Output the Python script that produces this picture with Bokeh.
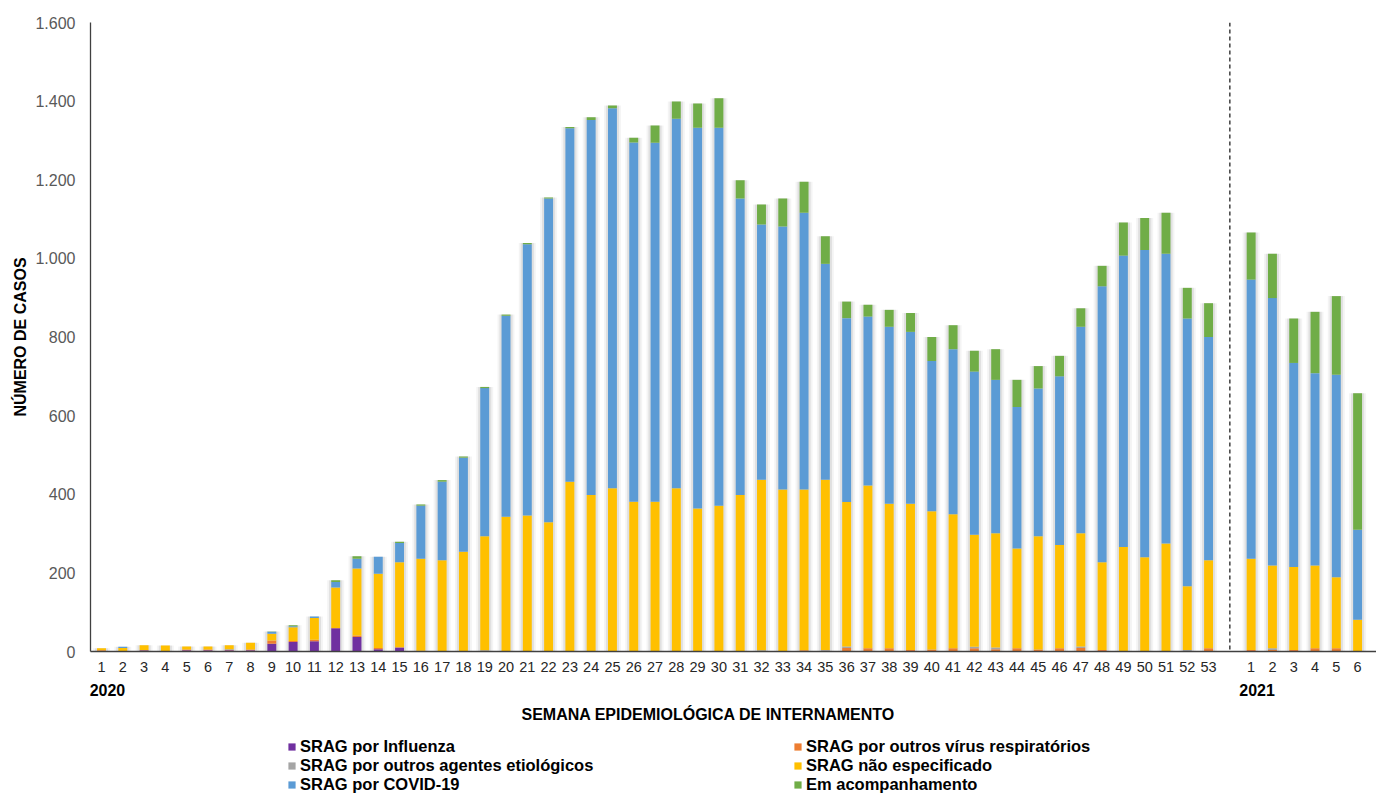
from bokeh.plotting import figure
from bokeh.layouts import column
from bokeh.models import (ColumnDataSource, Range1d, FixedTicker, LinearAxis,
                          Legend, LegendItem, Span, Title)
from bokeh.embed import file_html
from bokeh.resources import INLINE

# ---------------- data ----------------
weeks_2020 = list(range(1, 54))
weeks_2021 = list(range(1, 8))
year_labels = ["2020", "2021"]
y_ticks = [0, 200, 400, 600, 800, 1000, 1200, 1400, 1600]
y_tick_labels = ["0", "200", "400", "600", "800", "1.000", "1.200", "1.400", "1.600"]

series_names = ["SRAG por Influenza", "SRAG por outros vírus respiratórios",
                "SRAG por outros agentes etiológicos", "SRAG não especificado",
                "SRAG por COVID-19", "Em acompanhamento"]
series_colors = ["#7030A0", "#ED7D31", "#A5A5A5", "#FFC000", "#5B9BD5", "#70AD47"]

influenza_2020 = [1, 1, 3, 1, 3, 3, 3, 3, 20, 24, 26, 59, 37, 6, 10,
                  1, 1, 0, 0, 0, 0, 0, 0, 0, 0, 0, 0, 0, 0, 0, 0, 0, 0, 0, 0,
                  0, 0, 0, 0, 0, 0, 0, 0, 0, 0, 0, 0, 0, 0, 0, 0, 0, 0]
outros_virus_2020 = [2, 0, 0, 0, 2, 2, 1, 2, 8, 3, 4, 1, 4, 3, 1,
                     1, 0, 0, 0, 0, 0, 0, 0, 0, 0, 0, 0, 0, 0, 0, 0, 0, 0, 3, 2,
                     9, 8, 8, 4, 5, 8, 8, 6, 8, 5, 8, 9, 4, 1, 1, 1, 1, 8]
outros_agentes_2020 = [0, 0, 0, 0, 0, 0, 2, 0, 0, 0, 0, 0, 0, 0, 0,
                       0, 0, 0, 3, 0, 0, 0, 0, 0, 0, 0, 0, 0, 0, 0, 0, 3, 0, 0, 2,
                       4, 0, 0, 0, 0, 0, 4, 4, 0, 0, 0, 4, 0, 0, 0, 0, 3, 0]
nao_especificado_2020 = [5, 8, 13, 14, 8, 8, 10, 17, 17, 35, 55, 103, 170, 189, 216,
                         234, 231, 254, 290, 343, 346, 329, 432, 398, 415, 381, 381,
                         415, 364, 371, 398, 434, 412, 409, 433, 367, 414, 368, 372,
                         352, 341, 285, 291, 254, 288, 263, 288, 223, 265, 239, 274,
                         162, 224]
covid_2020 = [0, 3, 0, 0, 0, 0, 0, 0, 5, 2, 4, 14, 25, 43, 49,
              135, 200, 239, 377, 511, 690, 823, 899, 954, 967, 914, 913, 940,
              968, 961, 754, 649, 669, 704, 549, 468, 430, 450, 437, 382, 420,
              415, 390, 360, 376, 429, 525, 702, 741, 781, 737, 681, 568]
acompanhamento_2020 = [0, 0, 0, 0, 0, 0, 0, 0, 1, 3, 0, 4, 6, 0, 3,
                       3, 4, 3, 3, 3, 3, 3, 3, 7, 7, 12, 44, 44, 62, 75, 47, 51,
                       71, 79, 70, 42, 30, 43, 48, 61, 61, 53, 78, 69, 57, 52, 47,
                       52, 84, 82, 104, 78, 86]

influenza_2021 = [0, 0, 0, 0, 0, 0, 0]
outros_virus_2021 = [4, 4, 4, 8, 8, 0, 0]
outros_agentes_2021 = [0, 4, 0, 0, 0, 0, 0]
nao_especificado_2021 = [232, 211, 211, 211, 181, 81, 0]
covid_2021 = [710, 680, 519, 489, 515, 229, 0]
acompanhamento_2021 = [120, 113, 113, 156, 200, 347, 0]

# ---------------- positions (2020 weeks, one empty slot, 2021 weeks) ----------------
x_2020 = list(range(1, len(weeks_2020) + 1))
gap_pos = len(weeks_2020) + 1
x_2021 = list(range(gap_pos + 1, gap_pos + 1 + len(weeks_2021)))

keys = ["influenza", "outros_virus", "outros_agentes", "nao_esp", "covid", "acomp"]
d2020 = [influenza_2020, outros_virus_2020, outros_agentes_2020,
         nao_especificado_2020, covid_2020, acompanhamento_2020]
d2021 = [influenza_2021, outros_virus_2021, outros_agentes_2021,
         nao_especificado_2021, covid_2021, acompanhamento_2021]

data = {"x": x_2020 + x_2021}
for k, a, b in zip(keys, d2020, d2021):
    data[k] = a + b
data["total"] = [sum(v) for v in zip(*[data[k] for k in keys])]
source = ColumnDataSource(data)

# ---------------- chart ----------------
chart = figure(width=1376, height=734, output_backend="svg", toolbar_location=None,
               x_range=Range1d(0.483, 60.888), y_range=Range1d(0, 1600),
               min_border_left=90, min_border_right=0, min_border_top=22,
               min_border_bottom=83)
chart.outline_line_color = None
chart.grid.visible = False
chart.background_fill_color = "white"

# soft shadows behind bars
chart.vbar(x="x", top="total", width=0.80, source=source, fill_color="#000000",
           fill_alpha=0.045, line_color=None)
chart.vbar(x="x", top="total", width=0.62, source=source, fill_color="#000000",
           fill_alpha=0.08, line_color=None)

chart.vbar_stack(keys, x="x", width=0.42, source=source,
                 color=series_colors, line_color=None)

chart.add_layout(Span(location=gap_pos, dimension="height", line_color="#202020",
                      line_width=1.3, line_dash="4 3"))

# y axis
yax = chart.yaxis[0]
yax.ticker = FixedTicker(ticks=y_ticks)
yax.major_label_overrides = {t: l for t, l in zip(y_ticks, y_tick_labels)}
yax.major_tick_line_color = None
yax.minor_tick_line_color = None
yax.major_tick_out = 0
yax.major_label_standoff = 15
yax.major_label_text_font = "Liberation Sans"
yax.major_label_text_font_size = "16px"
yax.major_label_text_color = "#595959"
yax.axis_line_color = "#404040"
yax.axis_line_width = 1.3
yax.axis_label = "NÚMERO DE CASOS"
yax.axis_label_text_font = "Liberation Sans"
yax.axis_label_text_font_size = "16px"
yax.axis_label_text_font_style = "bold"
yax.axis_label_text_color = "#000000"
yax.axis_label_standoff = 3

# x axis (week numbers)
xax = chart.xaxis[0]
ticks_x = x_2020 + x_2021
labels_x = [str(w) for w in weeks_2020] + [str(w) for w in weeks_2021]
xax.ticker = FixedTicker(ticks=ticks_x)
xax.major_label_overrides = {t: l for t, l in zip(ticks_x, labels_x)}
xax.major_tick_line_color = None
xax.minor_tick_line_color = None
xax.major_tick_out = 0
xax.major_label_standoff = 10
xax.major_label_text_font = "Liberation Sans"
xax.major_label_text_font_size = "14.5px"
xax.major_label_text_color = "#262626"
xax.axis_line_color = "#404040"
xax.axis_line_width = 1.3

# second x axis: years (slightly right of the group's first week)
year_ticks = [x_2020[0] + 0.28, x_2021[0] + 0.28]
yr = LinearAxis(ticker=FixedTicker(ticks=year_ticks),
                major_label_overrides={year_ticks[0]: year_labels[0],
                                       year_ticks[1]: year_labels[1]})
yr.axis_line_color = None
yr.major_tick_line_color = None
yr.minor_tick_line_color = None
yr.major_tick_out = 0
yr.major_label_standoff = 9
yr.major_label_text_font = "Liberation Sans"
yr.major_label_text_font_size = "16px"
yr.major_label_text_font_style = "bold"
yr.major_label_text_color = "#000000"
chart.add_layout(yr, "below")

# x axis title, placed a little left of the frame centre like the original
xtitle = Title(text="SEMANA EPIDEMIOLÓGICA DE INTERNAMENTO", align="left",
               offset=431, standoff=10, text_font="Liberation Sans",
               text_font_size="16px", text_font_style="bold", text_color="#000000")
chart.add_layout(xtitle, "below")

# ---------------- legend strip ----------------
leg_fig = figure(width=1376, height=60, output_backend="svg", toolbar_location=None,
                 x_axis_location=None, y_axis_location=None, min_border=0,
                 x_range=Range1d(0, 1), y_range=Range1d(0, 1))
leg_fig.outline_line_color = None
leg_fig.grid.visible = False
# zero-height placeholder bars that only provide the legend swatches
swatch_src = ColumnDataSource(dict(x=[0.5], top=[0]))
swatches = [leg_fig.vbar(x="x", top="top", width=0.01, source=swatch_src,
                         fill_color=c, line_color=None)
            for c in series_colors]
items = [LegendItem(label=n, renderers=[r]) for n, r in zip(series_names, swatches)]
legend = Legend(items=items, orientation="horizontal", ncols=2,
                location=(197, 0), padding=0, margin=0, spacing=0,
                glyph_width=9, glyph_height=9, label_standoff=4,
                label_width=493, label_height=18,
                label_text_font="Liberation Sans", label_text_font_size="16.5px",
                label_text_font_style="bold", label_text_color="#000000",
                border_line_color=None, background_fill_alpha=0)
leg_fig.add_layout(legend, "center")

p = column(chart, leg_fig, spacing=0)

open("out.html", "w").write(file_html(p, INLINE))
